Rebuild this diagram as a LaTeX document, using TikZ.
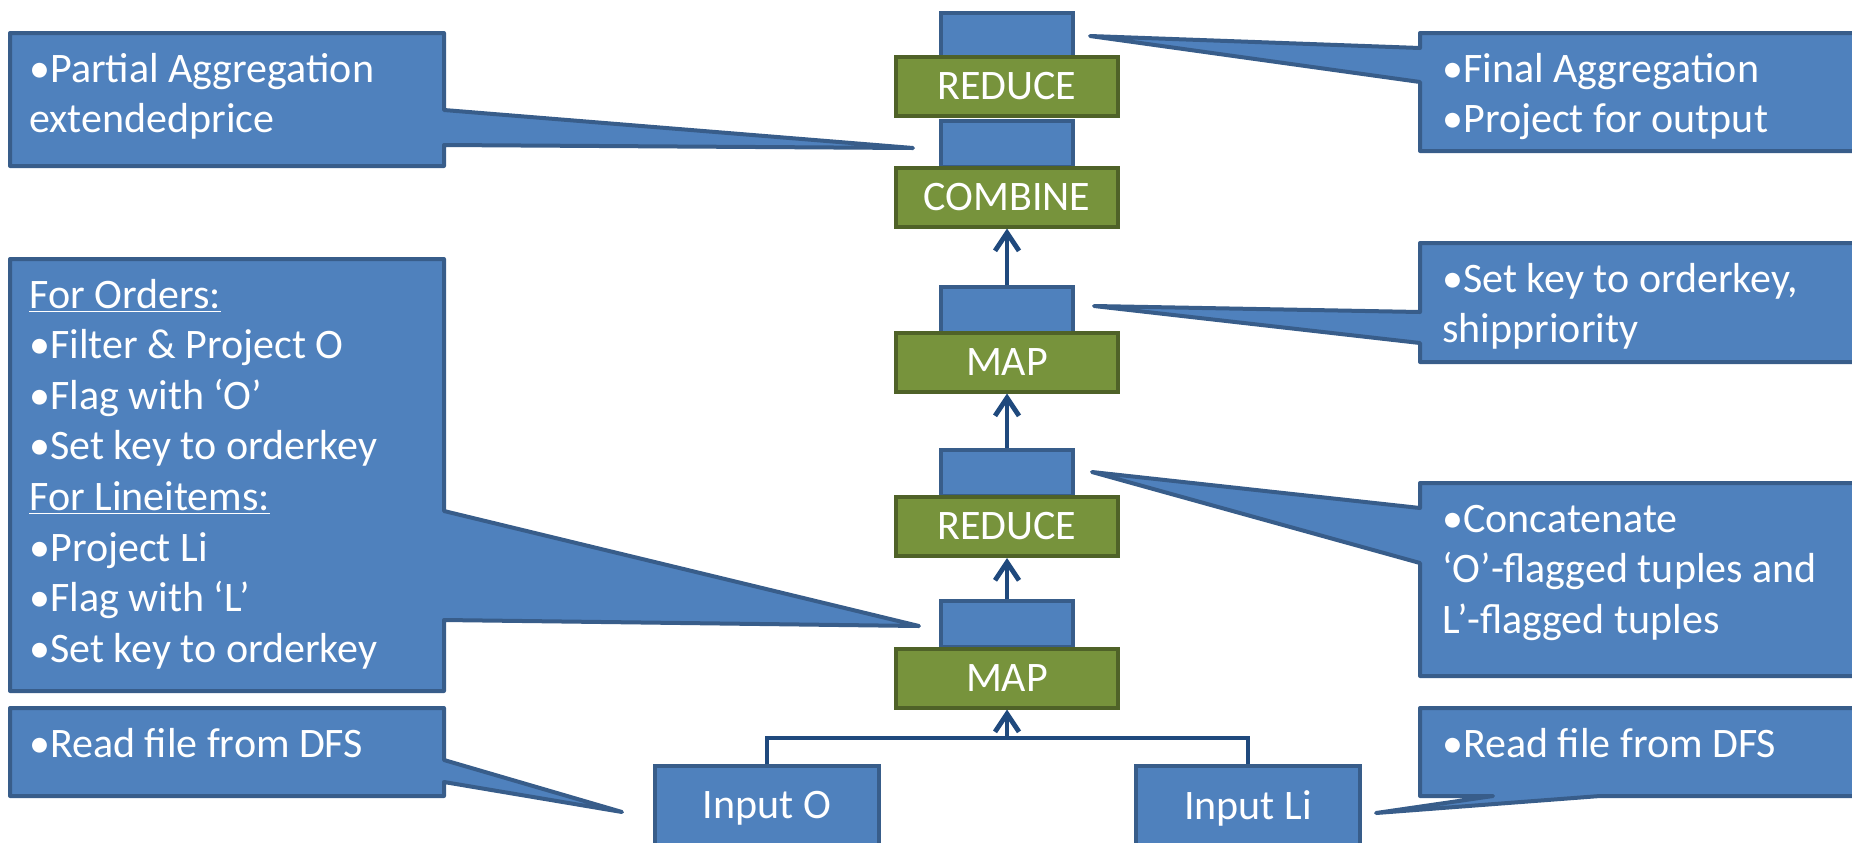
\documentclass[tikz,border=0pt]{standalone}
\usepackage{fontspec}
\setmainfont{Carlito}
\usetikzlibrary{arrows.meta}
\definecolor{bfill}{HTML}{4F81BD}
\definecolor{bline}{HTML}{385D8A}
\definecolor{gfill}{HTML}{77933C}
\definecolor{gline}{HTML}{4F6228}
\definecolor{aline}{HTML}{1F497D}
\newcommand\mlines[1]{\vtop{\baselineskip=25.3pt\lineskiplimit=-100pt #1}}
\begin{document}
\begin{tikzpicture}[x=0.5pt,y=-0.5pt,
  txt/.style={text=white,font=\fontsize{21pt}{25.3pt}\selectfont},
  opbox/.style={draw=gline,fill=gfill,line width=2pt,minimum width=111pt,minimum height=29.5pt,inner sep=0pt,txt},
  databox/.style={draw=bline,fill=bfill,line width=2pt,minimum width=66pt,minimum height=23pt,inner sep=0pt},
  inbox/.style={draw=bline,fill=bfill,line width=2pt,minimum width=112pt,minimum height=42pt,inner sep=0pt,txt},
  callout/.style={draw=bline,fill=bfill,line width=2pt,line join=round},
  ctext/.style={txt,anchor=base west,inner sep=0pt},
  flow/.style={draw=aline,line width=2.4pt,-{Straight Barb[length=9pt,width=12pt,line width=2.4pt]}},
  link/.style={draw=aline,line width=2.4pt}]

\path[use as bounding box, clip] (0,0) rectangle (1852,842);
\fill[white] (0,0) rectangle (1852,842);

% callout shapes
\path[callout] (10,33) -- (444,33) -- (444,110) -- (913,148) -- (444,145) -- (444,166) -- (10,166) -- cycle;
\path[callout] (1420,33) -- (1900,33) -- (1900,151) -- (1420,151) -- (1420,82) -- (1090,36) -- (1420,48) -- cycle;
\path[callout] (1420,243) -- (1900,243) -- (1900,362) -- (1420,362) -- (1420,343) -- (1094,306) -- (1420,312) -- cycle;
\path[callout] (1420,483) -- (1900,483) -- (1900,676) -- (1420,676) -- (1420,563) -- (1092,472) -- (1420,508) -- cycle;
\path[callout] (10,259) -- (444,259) -- (444,511) -- (919,626) -- (444,620) -- (444,691) -- (10,691) -- cycle;
\path[callout] (10,708) -- (444,708) -- (444,760) -- (622,812) -- (444,782) -- (444,796) -- (10,796) -- cycle;
\path[callout] (1420,708) -- (1900,708) -- (1900,796) -- (1600,796) -- (1376,813) -- (1493,796) -- (1420,796) -- cycle;

% data boxes (under operators)
\node[databox] (d1) at (1007,36) {};
\node[databox] (d2) at (1007,144) {};
\node[databox] (d3) at (1007,310) {};
\node[databox] (d4) at (1007,473) {};
\node[databox] (d5) at (1007,624) {};

% operators
\node[opbox] (reduceTop) at (1007,86.5) {REDUCE};
\node[opbox] (combine) at (1007,197) {COMBINE};
\node[opbox] (mapTop) at (1007,362) {MAP};
\node[opbox] (reduceMid) at (1007,526.5) {REDUCE};
\node[opbox] (mapBot) at (1007,678) {MAP};

% inputs
\node[inbox] (inO) at (767,808) {Input O};
\node[inbox] (inLi) at (1248,808) {Input Li};

% connectors
\coordinate (jn) at (1007,738);
\path[link] (inO.north) |- (jn) -| (inLi.north);
\path[flow] (jn) -- (mapBot.south);
\path[flow] (d5.north) -- (reduceMid.south);
\path[flow] (d4.north) -- (mapTop.south);
\path[flow] (d3.north) -- (combine.south);

% callout texts
\node[ctext] (tPartial) at (29,82) {\mlines{\hbox{•Partial Aggregation}\hbox{extendedprice}}};
\node[ctext] (tFinal) at (1442,82) {\mlines{\hbox{•Final Aggregation}\hbox{•Project for output}}};
\node[ctext] (tSetkey) at (1442,292) {\mlines{\hbox{•Set key to orderkey,}\hbox{shippriority}}};
\node[ctext] (tConcat) at (1442,532) {\mlines{\hbox{•Concatenate}\hbox{‘O’-flagged tuples and}\hbox{L’-flagged tuples}}};
\node[ctext] (tOrders) at (29,308) {\mlines{\hbox{\underline{For Orders:}}\hbox{•Filter \& Project O}\hbox{•Flag with ‘O’}\hbox{•Set key to orderkey}\hbox{\underline{For Lineitems:}}\hbox{•Project Li}\hbox{•Flag with ‘L’}\hbox{•Set key to orderkey}}};
\node[ctext] (tReadL) at (29,757) {•Read file from DFS};
\node[ctext] (tReadR) at (1442,757) {•Read file from DFS};
\end{tikzpicture}
\end{document}
